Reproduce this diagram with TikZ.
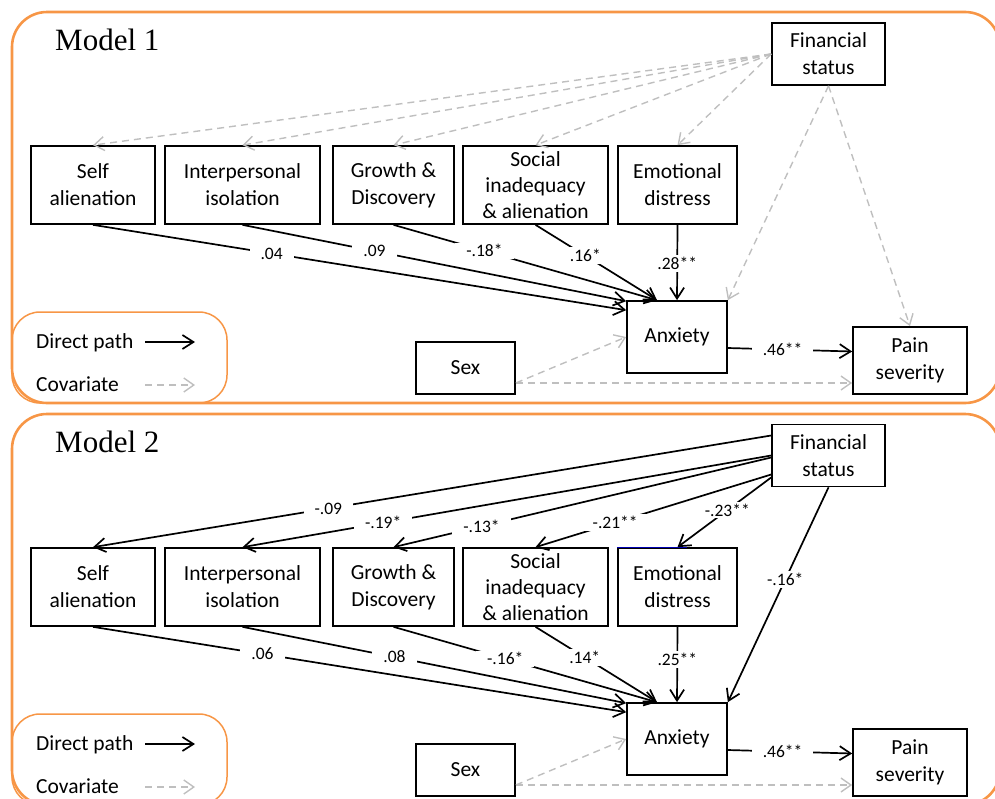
\documentclass[tikz,border=0pt]{standalone}
\usepackage{fontspec}
\setmainfont{Carlito}
\newfontfamily\titlefont{Liberation Serif}
\usetikzlibrary{arrows.meta}
\definecolor{panelorange}{RGB}{247,150,70}
\definecolor{covgray}{RGB}{191,191,191}

\begin{document}
\begin{tikzpicture}[
    x=1pt, y=-1pt,
    box/.style={draw, line width=1.7pt, inner sep=0pt, align=center, font=\fontsize{21.5}{27}\selectfont},
    lbl/.style={fill=white, inner xsep=11pt, inner ysep=2pt, font=\fontsize{17.5}{20}\selectfont},
    title/.style={font=\titlefont\fontsize{31}{36}\selectfont, anchor=base west, inner sep=0pt},
    legtext/.style={font=\fontsize{21.5}{25}\selectfont, anchor=base west, inner sep=0pt},
    panel/.style={draw=panelorange, line width=2.6pt, rounded corners=35pt},
    legendbox/.style={draw=panelorange, line width=1.5pt, rounded corners=28pt},
    arrow/.style={-{Straight Barb[length=11pt,width=14pt]}, line width=1.7pt},
    cov/.style={-{Straight Barb[length=10pt,width=14pt]}, line width=1.4pt, draw=covgray, dash pattern=on 7pt off 5pt}
]
\useasboundingbox (0,0) rectangle (995,798);
\clip (0,0) rectangle (995,798);

% Model 1
\draw[panel] (12,12) rectangle (1000,403);
\node[title] (title1) at (55,50) {Model 1};

\node[box, minimum width=124pt, minimum height=78pt] (self1) at (93,185) {Self\\alienation};
\node[box, minimum width=155pt, minimum height=78pt] (inter1) at (242.5,185) {Interpersonal\\isolation};
\node[box, minimum width=121pt, minimum height=78pt] (growth1) at (393.5,185) {Growth \&\\Discovery};
\node[box, minimum width=145pt, minimum height=78pt] (social1) at (535.5,185) {Social\\[-1pt]inadequacy\\[-1pt]\& alienation};
\node[box, minimum width=119pt, minimum height=78pt] (emo1) at (677.5,185) {Emotional\\distress};
\node[box, minimum width=113pt, minimum height=62pt] (fin1) at (828.5,54) {Financial\\status};
\node[box, minimum width=100pt, minimum height=72pt] (anx1) at (677,337) {Anxiety};
\node[box, minimum width=114pt, minimum height=67pt] (pain1) at (910,360.5) {Pain\\severity};
\node[box, minimum width=99pt, minimum height=52pt] (sex1) at (465.5,368) {Sex};

\draw[legendbox] (12,312) rectangle (227,403);
\node[legtext] (direct1) at (36,348) {Direct path};
\node[legtext] (covar1) at (36,391) {Covariate};
\coordinate (direct1a) at (145,342);
\coordinate (direct1b) at (195,342);
\coordinate (covar1a) at (145,385);
\coordinate (covar1b) at (195,385);
\draw[arrow] (direct1a) -- (direct1b);
\draw[cov] (covar1a) -- (covar1b);

\draw[cov] (fin1.west) -- (self1.north);
\draw[cov] (fin1.west) -- (inter1.north);
\draw[cov] (fin1.west) -- (growth1.north);
\draw[cov] (fin1.west) -- (social1.north);
\draw[cov] (fin1.west) -- (emo1.north);
\draw[cov] (fin1.south) -- (anx1.north east);
\draw[cov] (fin1.south) -- (pain1.north);
\coordinate (sexout1) at ([yshift=-15pt]sex1.east);
\draw[cov] (sexout1) -- (anx1.west);
\draw[cov] (sexout1) -- (sexout1 -| pain1.west);

\draw[arrow] (self1.south) -- node[lbl, pos=0.335] {.04} ([yshift=-10pt]anx1.north west);
\draw[arrow] (inter1.south) -- node[lbl, pos=0.344] {.09} ([yshift=-1pt]anx1.north west);
\draw[arrow] (growth1.south) -- node[lbl, pos=0.345] {-.18*} ([xshift=-20pt]anx1.north);
\draw[arrow] (social1.south) -- node[lbl, pos=0.41] {.16*} ([xshift=-20pt]anx1.north);
\draw[arrow] (emo1.south) -- node[lbl, pos=0.51] {.28**} (anx1.north);
\draw[arrow] ([yshift=-11pt]anx1.east) -- node[lbl, pos=0.44] {.46**} ([yshift=9pt]pain1.west);

% Model 2
\draw[panel] (12,414) rectangle (1000,805);
\node[title] (title2) at (55,452) {Model 2};

\node[box, minimum width=124pt, minimum height=78pt] (self2) at (93,587) {Self\\alienation};
\node[box, minimum width=155pt, minimum height=78pt] (inter2) at (242.5,587) {Interpersonal\\isolation};
\node[box, minimum width=121pt, minimum height=78pt] (growth2) at (393.5,587) {Growth \&\\Discovery};
\node[box, minimum width=145pt, minimum height=78pt] (social2) at (535.5,587) {Social\\[-1pt]inadequacy\\[-1pt]\& alienation};
\node[box, minimum width=119pt, minimum height=78pt] (emo2) at (677.5,587) {Emotional\\distress};
\node[box, minimum width=113pt, minimum height=62pt] (fin2) at (828.5,455.5) {Financial\\status};
\node[box, minimum width=100pt, minimum height=72pt] (anx2) at (677,739) {Anxiety};
\node[box, minimum width=114pt, minimum height=67pt] (pain2) at (910,762.5) {Pain\\severity};
\node[box, minimum width=99pt, minimum height=52pt] (sex2) at (465.5,770) {Sex};
\draw[blue!70!black, line width=1.2pt] (emo2.north west) -- ([xshift=70pt]emo2.north west);

\draw[legendbox] (12,714) rectangle (227,805);
\node[legtext] (direct2) at (36,750) {Direct path};
\node[legtext] (covar2) at (36,793) {Covariate};
\coordinate (direct2a) at (145,744);
\coordinate (direct2b) at (195,744);
\coordinate (covar2a) at (145,787);
\coordinate (covar2b) at (195,787);
\draw[arrow] (direct2a) -- (direct2b);
\draw[cov] (covar2a) -- (covar2b);

\coordinate (sexout2) at ([yshift=-15pt]sex2.east);
\draw[cov] (sexout2) -- (anx2.west);
\draw[cov] (sexout2) -- (sexout2 -| pain2.west);

\draw[arrow] ([yshift=20pt]fin2.west) -- node[lbl, pos=0.653] {-.09} (self2.north);
\draw[arrow] (fin2.west) -- node[lbl, pos=0.734] {-.19*} (inter2.north);
\draw[arrow] ([yshift=-2pt]fin2.west) -- node[lbl, pos=0.767] {-.13*} (growth2.north);
\draw[arrow] ([yshift=-19pt]fin2.west) -- node[lbl, pos=0.662] {-.21**} (social2.north);
\draw[arrow] ([yshift=-22pt]fin2.west) -- node[lbl, pos=0.468] {-.23**} (emo2.north);
\draw[arrow] (fin2.south) -- node[lbl, pos=0.43] {-.16*} (anx2.north east);

\draw[arrow] (self2.south) -- node[lbl, pos=0.318] {.06} ([yshift=-10pt]anx2.north west);
\draw[arrow] (inter2.south) -- node[lbl, pos=0.396] {.08} ([yshift=-1pt]anx2.north west);
\draw[arrow] (growth2.south) -- node[lbl, pos=0.424] {-.16*} ([xshift=-20pt]anx2.north);
\draw[arrow] (social2.south) -- node[lbl, pos=0.405] {.14*} ([xshift=-20pt]anx2.north);
\draw[arrow] (emo2.south) -- node[lbl, pos=0.43] {.25**} (anx2.north);
\draw[arrow] ([yshift=-11pt]anx2.east) -- node[lbl, pos=0.44] {.46**} ([yshift=9pt]pain2.west);
\end{tikzpicture}
\end{document}
